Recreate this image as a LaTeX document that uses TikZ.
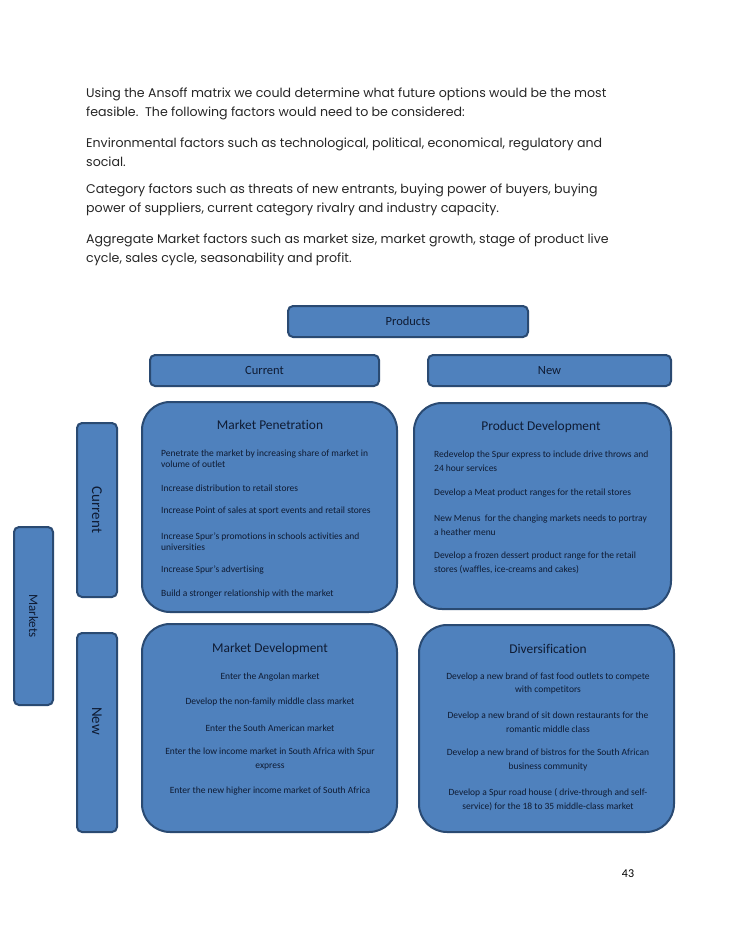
\documentclass[tikz,border=0pt]{standalone}
\usepackage{fontspec}
\setmainfont{Carlito}[Ligatures=NoCommon]
\newfontfamily\gothic{Poppins}
\usetikzlibrary{positioning}
\definecolor{boxblue}{HTML}{4F81BD}
\definecolor{boxline}{HTML}{2A4A72}
\definecolor{boxtext}{HTML}{0F1B33}
\tikzset{
  hbox/.style = {rectangle, rounded corners=5pt, draw=boxline, fill=boxblue, line width=2pt, text=boxtext, font=\fontsize{12.5}{14}\selectfont, inner sep=0},
  quad/.style = {hbox, rounded corners=28pt},
  qtitle/.style = {inner sep=0, text=boxtext, font=\fontsize{13.4}{15}\selectfont},
  item/.style = {inner sep=0, text=boxtext, font=\fontsize{9.5}{11}\selectfont},
  para/.style = {inner sep=0, anchor=west, align=left, text=black!85, font=\gothic\fontsize{12.6}{19}\selectfont}
}

\begin{document}
\begin{tikzpicture}[x=1pt, y=-1pt]
\useasboundingbox (0,0) rectangle (728,942);
% text above the matrix
\node [para] (p1) at (86, 103.5) {Using the Ansoff matrix we could determine what future options would be the most\\feasible.\ \ The following factors would need to be considered:};
\node [para] (p2) at (86, 152.5) {Environmental factors such as technological, political, economical, regulatory and\\social.};
\node [para] (p3) at (86, 199.5) {Category factors such as threats of new entrants, buying power of buyers, buying\\power of suppliers, current category rivalry and industry capacity.};
\node [para] (p4) at (86, 249.5) {Aggregate Market factors such as market size, market growth, stage of product live\\cycle, sales cycle, seasonability and profit.};

% headings
\node [hbox, minimum width=240, minimum height=31] (prod) at (408, 321.5) {Products};
\node [hbox, minimum width=229, minimum height=31] (pcur) at (264.5, 370.5) {Current};
\node [hbox, minimum width=243, minimum height=31] (pnew) at (549.5, 370.5) {New};
\node [hbox, minimum width=39, minimum height=178] (mkt) at (33.5, 616) {};
\node [rotate=-90, text=boxtext, font=\fontsize{13}{15}\selectfont] at (mkt) {Markets};
\node [hbox, minimum width=40, minimum height=174] (mcur) at (97, 510) {};
\node [rotate=-90, text=boxtext, font=\fontsize{15}{17}\selectfont] at (mcur) {Current};
\node [hbox, minimum width=40, minimum height=199] (mnew) at (97, 732.5) {};
\node [rotate=-90, text=boxtext, font=\fontsize{15}{17}\selectfont] at (97, 721) {New};

% the four quadrants
\node [quad, minimum width=255, minimum height=210] (MP) at (269.5, 507) {};
\node [quad, minimum width=257, minimum height=206] (PD) at (542.5, 506) {};
\node [quad, minimum width=255, minimum height=208] (MD) at (269.5, 728) {};
\node [quad, minimum width=255, minimum height=207] (DV) at (546.5, 728.5) {};

% market penetration
\node [qtitle] (MPt) at (270, 425) {Market Penetration};
\node [item, anchor=west, align=left] at (161, 458.5) {Penetrate the market by increasing share of market in\\volume of outlet};
\node [item, anchor=west] at (161, 488) {Increase distribution to retail stores};
\node [item, anchor=west] at (161, 511) {Increase Point of sales at sport events and retail stores};
\node [item, anchor=west, align=left] at (161, 541.5) {Increase Spur’s promotions in schools activities and\\universities};
\node [item, anchor=west] at (161, 570) {Increase Spur’s advertising};
\node [item, anchor=west] at (161, 594) {Build a stronger relationship with the market};

% product development
\node [qtitle] (PDt) at (541, 427) {Product Development};
\node [item, anchor=west, align=left, font=\fontsize{9.5}{14}\selectfont] at (434, 461) {Redevelop the Spur express to include drive throws and\\24 hour services};
\node [item, anchor=west] at (434, 493) {Develop a Meat product ranges for the retail stores};
\node [item, anchor=west, align=left, font=\fontsize{9.5}{14}\selectfont] at (434, 525) {New Menus\ \ for the changing markets needs to portray\\a heather menu};
\node [item, anchor=west, align=left, font=\fontsize{9.5}{14}\selectfont] at (434, 563) {Develop a frozen dessert product range for the retail\\stores (waffles, ice-creams and cakes)};

% market development
\node [qtitle] (MDt) at (270, 649) {Market Development};
\node [item] at (270, 677) {Enter the Angolan market};
\node [item] at (270, 702) {Develop the non-family middle class market};
\node [item] at (270, 728) {Enter the South American market};
\node [item, align=center, font=\fontsize{9.5}{14}\selectfont] at (270, 759) {Enter the low income market in South Africa with Spur\\express};
\node [item] at (270, 791) {Enter the new higher income market of South Africa};

% diversification
\node [qtitle] (DVt) at (548, 649) {Diversification};
\node [item, align=center, font=\fontsize{9.5}{13.5}\selectfont] at (548, 683.5) {Develop a new brand of fast food outlets to compete\\with competitors};
\node [item, align=center, font=\fontsize{9.5}{14}\selectfont] at (548, 722) {Develop a new brand of sit down restaurants for the\\romantic middle class};
\node [item, align=center, font=\fontsize{9.5}{14}\selectfont] at (548, 760) {Develop a new brand of bistros for the South African\\business community};
\node [item, align=center, font=\fontsize{9.5}{13.5}\selectfont] at (548, 799.5) {Develop a Spur road house ( drive-through and self-\\service) for the 18 to 35 middle-class market};

% page number
\node [inner sep=0, font=\fontsize{12}{14}\selectfont] (pg) at (628, 874) {43};
\end{tikzpicture}
\end{document}
